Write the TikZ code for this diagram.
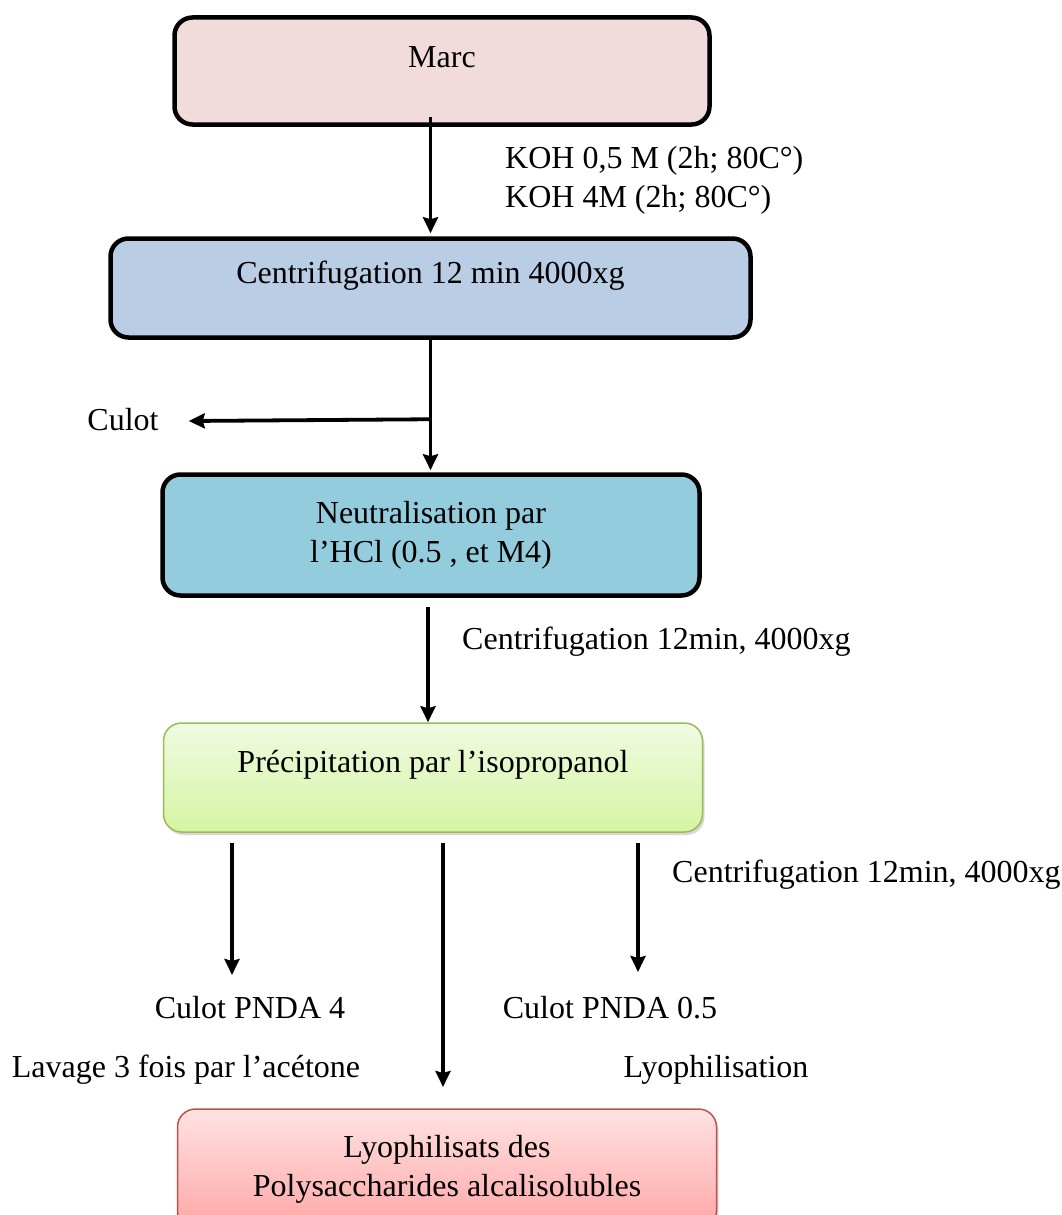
\documentclass[tikz,border=0pt]{standalone}
\usepackage{fontspec}
\setmainfont{Liberation Serif}
\usetikzlibrary{calc,arrows.meta,shadows}
\tikzset{>={Stealth[length=16pt,width=15pt,inset=2pt]}}
\definecolor{marcfill}{HTML}{F2DCDB}
\definecolor{centrifill}{HTML}{B9CDE5}
\definecolor{neutrfill}{HTML}{93CDDD}
\definecolor{vertclair}{HTML}{F0FAE2}
\definecolor{vertfonce}{HTML}{D5F5A2}
\definecolor{vertbord}{HTML}{9BBB59}
\definecolor{rougeclair}{HTML}{FFE2E2}
\definecolor{rougefonce}{HTML}{FFA6A6}
\definecolor{rougebord}{HTML}{C0504D}
\tikzset{
  etape/.style={draw, line width=4.5pt, rounded corners=18pt, inner sep=0pt, align=center},
  etapefine/.style={draw, line width=1.5pt, rounded corners=18pt, inner sep=0pt, align=center,
    drop shadow={opacity=0.3, shadow xshift=2pt, shadow yshift=-3pt}},
  fleche/.style={->, line width=3.8pt},
  legende/.style={inner sep=0pt, align=left}
}

\begin{document}
\begin{tikzpicture}[x=1pt,y=-1pt,font=\fontsize{32}{39}\selectfont]
\fill[white] (0,0) rectangle (1062,1215);
\useasboundingbox (0,0) rectangle (1062,1215);
% boites
\node[etape, fill=marcfill, anchor=base, minimum width=535pt, text height=49.5pt, text depth=57.5pt] (marc) at (442,67) {Marc};
\node[etape, fill=centrifill, anchor=base, minimum width=640pt, text height=44.5pt, text depth=54.5pt] (centri) at (430.5,283) {Centrifugation 12 min 4000xg};
\node[etape, fill=neutrfill, minimum width=537pt, minimum height=121pt] (neutr) at (431,535) {Neutralisation par\\l’HCl (0.5 , et M4)};
\node[etapefine, draw=vertbord, top color=vertclair, bottom color=vertfonce, anchor=base, minimum width=539pt, text height=49pt, text depth=60pt] (precip) at (433,772) {Précipitation par l’isopropanol};
\node[etapefine, draw=rougebord, top color=rougeclair, bottom color=rougefonce, minimum width=539pt, minimum height=120pt] (lyo) at (447,1169) {\raisebox{7pt}{\begin{tabular}{@{}c@{}}Lyophilisats des\\Polysaccharides alcalisolubles\end{tabular}}};
% textes
\node[legende, anchor=west] (koh) at (505,180) {KOH 0,5 M (2h; 80C°)\\KOH 4M (2h; 80C°)};
\node[legende] (culot) at (123,420) {Culot};
\node[legende, anchor=west] (centA) at (462,642) {Centrifugation 12min, 4000xg};
\node[legende, anchor=west] (centB) at (672,875) {Centrifugation 12min, 4000xg};
\node[legende] (culotA) at (250,1008) {Culot PNDA 4};
\node[legende] (culotB) at (610,1008) {Culot PNDA 0.5};
\node[legende] (lavage) at (186,1070) {Lavage 3 fois par l’acétone};
\node[legende] (lyoph) at (716,1070) {Lyophilisation};
% fleches
\draw[fleche] ($(marc.south -| centri.north)+(0,-10)$) -- ($(centri.north)+(0,-3)$);
\draw[fleche] (centri.south) -- ($(centri.south |- neutr.north)+(0,-2)$);
\coordinate (branche) at ($(centri.south)!0.6!(centri.south |- neutr.north)$);
\draw[fleche] (branche) -- ($(culot.east)+(30,1)$);
\draw[fleche] ($(neutr.south)+(-3,9)$) -- ($(precip.north)+(-5,0)$);
\foreach \nom/\x/\fin in {gauche/232/975, milieu/443/1087, droite/638/972} {
  \coordinate (\nom) at (\x,\fin);
  \draw[fleche] ($(precip.south -| \nom)+(0,10)$) -- (\nom);
}
\end{tikzpicture}
\end{document}
